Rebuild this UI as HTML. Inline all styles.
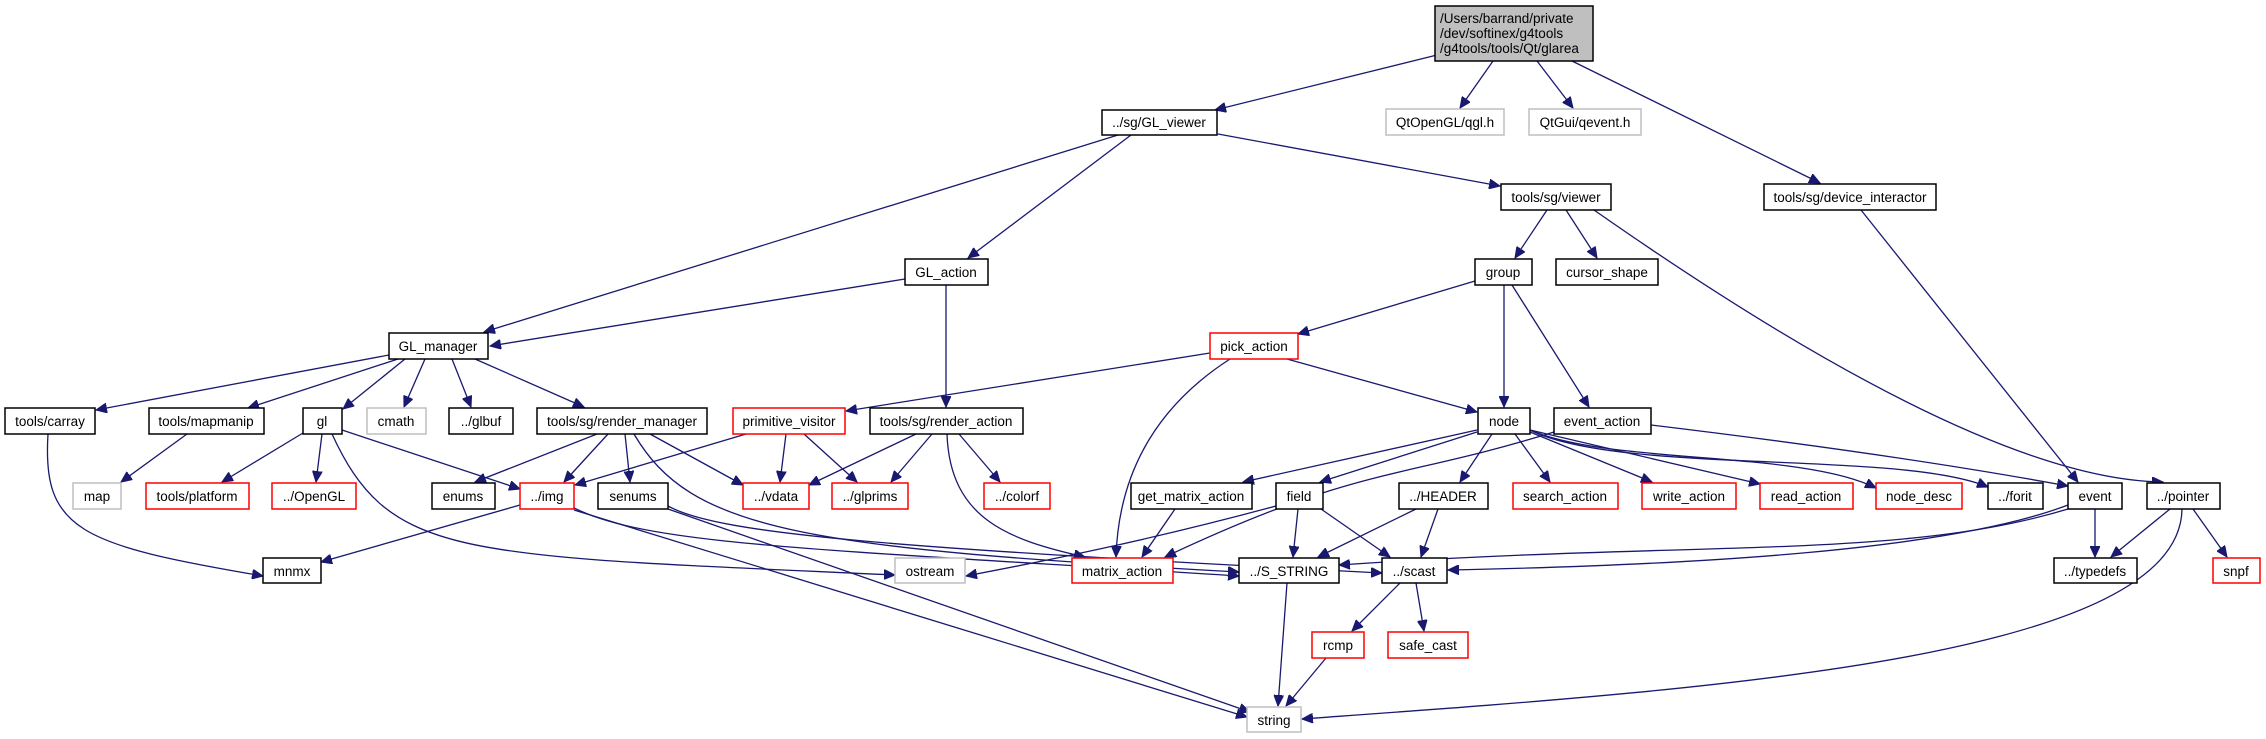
<!DOCTYPE html>
<html><head><meta charset="utf-8"><style>
html,body{margin:0;padding:0;background:#fff;}
svg{display:block;}
text{font-family:"Liberation Sans",sans-serif;font-size:13.5px;fill:#000;}
.e{fill:none;stroke:#191970;stroke-width:1.3;marker-end:url(#a);}
.b{fill:#fff;stroke:#000;stroke-width:1.5;}
.r{fill:#fff;stroke:#ff0000;stroke-width:1.5;}
.g{fill:#fff;stroke:#bfbfbf;stroke-width:1.5;}
</style></head><body>
<svg width="2266" height="739" viewBox="0 0 2266 739" xmlns="http://www.w3.org/2000/svg">
<defs><marker id="a" markerUnits="userSpaceOnUse" markerWidth="12" markerHeight="10" refX="11" refY="5" orient="auto"><path d="M0,0 L11,5 L0,10 z" fill="#191970" stroke="#191970"/></marker></defs>
<g>
<path class="e" d="M1437,55 L1215,110"/>
<path class="e" d="M1493,61 L1460,108"/>
<path class="e" d="M1537,61 L1573,108"/>
<path class="e" d="M1572,61 L1820,183"/>
<path class="e" d="M1118,135 L484,332"/>
<path class="e" d="M1131,135 L968,258"/>
<path class="e" d="M1218,134 L1500,186"/>
<path class="e" d="M1547,210 L1515,258"/>
<path class="e" d="M1566,210 L1597,258"/>
<path class="e" d="M1594,210 Q1980,480 2163,482"/>
<path class="e" d="M1861,210 L2078,482"/>
<path class="e" d="M905,279 L490,346"/>
<path class="e" d="M946,285 L946,407"/>
<path class="e" d="M1475,281 L1298,334"/>
<path class="e" d="M1504,285 L1504,407"/>
<path class="e" d="M1512,285 L1589,407"/>
<path class="e" d="M1210,353 L846,411"/>
<path class="e" d="M1287,359 L1477,412"/>
<path class="e" d="M1230,359 Q1120,430 1116,557"/>
<path class="e" d="M389,355 L96,410"/>
<path class="e" d="M398,359 L248,408"/>
<path class="e" d="M405,359 L343,409"/>
<path class="e" d="M425,359 L404,407"/>
<path class="e" d="M452,359 L471,407"/>
<path class="e" d="M475,359 L584,407"/>
<path class="e" d="M48,434 C42,530 80,545 263,576"/>
<path class="e" d="M187,434 L121,482"/>
<path class="e" d="M303,433 L222,482"/>
<path class="e" d="M322,434 L316,482"/>
<path class="e" d="M342,430 L520,489"/>
<path class="e" d="M332,434 C390,560 460,555 895,575"/>
<path class="e" d="M597,434 L475,482"/>
<path class="e" d="M608,434 L564,482"/>
<path class="e" d="M625,434 L630,482"/>
<path class="e" d="M650,434 L743,485"/>
<path class="e" d="M634,434 C690,530 800,548 1239,572"/>
<path class="e" d="M746,434 L575,485"/>
<path class="e" d="M786,434 L780,482"/>
<path class="e" d="M804,434 L857,482"/>
<path class="e" d="M916,434 L809,485"/>
<path class="e" d="M932,434 L891,482"/>
<path class="e" d="M959,434 L1000,482"/>
<path class="e" d="M947,434 C950,520 1010,540 1085,557"/>
<path class="e" d="M520,505 L321,562"/>
<path class="e" d="M574,508 C650,545 800,548 1239,576"/>
<path class="e" d="M574,510 L1247,717"/>
<path class="e" d="M668,509 L1250,712"/>
<path class="e" d="M668,506 C720,535 900,548 1382,573"/>
<path class="e" d="M1477,430 L1243,482"/>
<path class="e" d="M1477,432 L1320,482"/>
<path class="e" d="M1492,434 L1460,482"/>
<path class="e" d="M1515,434 L1550,482"/>
<path class="e" d="M1530,432 L1652,482"/>
<path class="e" d="M1530,430 L1760,484"/>
<path class="e" d="M1530,430 C1610,465 1800,450 1876,488"/>
<path class="e" d="M1530,430 C1620,475 1900,450 1988,487"/>
<path class="e" d="M1554,432 C1400,480 1360,465 1165,557"/>
<path class="e" d="M1651,425 Q1900,455 2068,486"/>
<path class="e" d="M1175,509 L1142,557"/>
<path class="e" d="M1276,506 C1150,540 1050,560 966,576"/>
<path class="e" d="M1298,509 L1293,557"/>
<path class="e" d="M1321,509 L1390,557"/>
<path class="e" d="M1416,509 L1318,557"/>
<path class="e" d="M1438,509 L1421,557"/>
<path class="e" d="M2068,509 C1900,560 1700,540 1339,565"/>
<path class="e" d="M2068,505 C1950,550 1700,565 1448,570"/>
<path class="e" d="M2095,509 L2095,557"/>
<path class="e" d="M2170,509 L2111,557"/>
<path class="e" d="M2193,509 L2227,557"/>
<path class="e" d="M2182,509 C2180,660 1700,690 1302,719"/>
<path class="e" d="M1287,583 L1278,706"/>
<path class="e" d="M1400,583 L1352,631"/>
<path class="e" d="M1416,583 L1424,631"/>
<path class="e" d="M1326,658 L1286,706"/>
</g>
<g text-anchor="middle">
<rect x="1435" y="6" width="158" height="55" fill="#bfbfbf" stroke="#000" stroke-width="1.5"/>
<text x="1440" y="23" text-anchor="start">/Users/barrand/private</text>
<text x="1440" y="38" text-anchor="start">/dev/softinex/g4tools</text>
<text x="1440" y="53" text-anchor="start">/g4tools/tools/Qt/glarea</text>

<rect class="b" x="1102" y="110" width="115" height="25"/><text x="1159" y="127">../sg/GL_viewer</text>
<rect class="g" x="1386" y="109" width="118" height="26"/><text x="1445" y="127">QtOpenGL/qgl.h</text>
<rect class="g" x="1529" y="109" width="112" height="26"/><text x="1585" y="127">QtGui/qevent.h</text>
<rect class="b" x="1501" y="184" width="110" height="26"/><text x="1556" y="202">tools/sg/viewer</text>
<rect class="b" x="1764" y="184" width="172" height="26"/><text x="1850" y="202">tools/sg/device_interactor</text>
<rect class="b" x="905" y="259" width="83" height="26"/><text x="946" y="277">GL_action</text>
<rect class="b" x="1475" y="259" width="57" height="26"/><text x="1503" y="277">group</text>
<rect class="b" x="1556" y="259" width="102" height="26"/><text x="1607" y="277">cursor_shape</text>
<rect class="b" x="389" y="333" width="99" height="26"/><text x="438" y="351">GL_manager</text>
<rect class="r" x="1210" y="333" width="88" height="26"/><text x="1254" y="351">pick_action</text>

<rect class="b" x="5" y="408" width="90" height="26"/><text x="50" y="426">tools/carray</text>
<rect class="b" x="149" y="408" width="115" height="26"/><text x="206" y="426">tools/mapmanip</text>
<rect class="b" x="303" y="408" width="39" height="26"/><text x="322" y="426">gl</text>
<rect class="g" x="367" y="408" width="59" height="26"/><text x="396" y="426">cmath</text>
<rect class="b" x="449" y="408" width="64" height="26"/><text x="481" y="426">../glbuf</text>
<rect class="b" x="537" y="408" width="170" height="26"/><text x="622" y="426">tools/sg/render_manager</text>
<rect class="r" x="733" y="408" width="112" height="26"/><text x="789" y="426">primitive_visitor</text>
<rect class="b" x="870" y="408" width="153" height="26"/><text x="946" y="426">tools/sg/render_action</text>
<rect class="b" x="1478" y="408" width="52" height="26"/><text x="1504" y="426">node</text>
<rect class="b" x="1554" y="408" width="97" height="26"/><text x="1602" y="426">event_action</text>

<rect class="g" x="73" y="483" width="48" height="26"/><text x="97" y="501">map</text>
<rect class="r" x="146" y="483" width="103" height="26"/><text x="197" y="501">tools/platform</text>
<rect class="r" x="272" y="483" width="84" height="26"/><text x="314" y="501">../OpenGL</text>
<rect class="b" x="432" y="483" width="63" height="26"/><text x="463" y="501">enums</text>
<rect class="r" x="520" y="483" width="54" height="26"/><text x="547" y="501">../img</text>
<rect class="b" x="598" y="483" width="70" height="26"/><text x="633" y="501">senums</text>
<rect class="r" x="743" y="483" width="66" height="26"/><text x="776" y="501">../vdata</text>
<rect class="r" x="832" y="483" width="76" height="26"/><text x="870" y="501">../glprims</text>
<rect class="r" x="984" y="483" width="66" height="26"/><text x="1017" y="501">../colorf</text>
<rect class="b" x="1131" y="483" width="121" height="26"/><text x="1191" y="501">get_matrix_action</text>
<rect class="b" x="1276" y="483" width="47" height="26"/><text x="1299" y="501">field</text>
<rect class="b" x="1399" y="483" width="89" height="26"/><text x="1443" y="501">../HEADER</text>
<rect class="r" x="1513" y="483" width="105" height="26"/><text x="1565" y="501">search_action</text>
<rect class="r" x="1642" y="483" width="94" height="26"/><text x="1689" y="501">write_action</text>
<rect class="r" x="1760" y="483" width="93" height="26"/><text x="1806" y="501">read_action</text>
<rect class="r" x="1876" y="483" width="86" height="26"/><text x="1919" y="501">node_desc</text>
<rect class="b" x="1988" y="483" width="55" height="26"/><text x="2015" y="501">../forit</text>
<rect class="b" x="2068" y="483" width="54" height="26"/><text x="2095" y="501">event</text>
<rect class="b" x="2147" y="483" width="73" height="26"/><text x="2183" y="501">../pointer</text>

<rect class="b" x="263" y="558" width="58" height="25"/><text x="292" y="576">mnmx</text>
<rect class="g" x="895" y="558" width="70" height="25"/><text x="930" y="576">ostream</text>
<rect class="r" x="1072" y="558" width="101" height="25"/><text x="1122" y="576">matrix_action</text>
<rect class="b" x="1239" y="558" width="100" height="25"/><text x="1289" y="576">../S_STRING</text>
<rect class="b" x="1382" y="558" width="65" height="25"/><text x="1414" y="576">../scast</text>
<rect class="b" x="2054" y="558" width="83" height="25"/><text x="2095" y="576">../typedefs</text>
<rect class="r" x="2213" y="558" width="47" height="25"/><text x="2236" y="576">snpf</text>

<rect class="r" x="1312" y="632" width="52" height="26"/><text x="1338" y="650">rcmp</text>
<rect class="r" x="1388" y="632" width="80" height="26"/><text x="1428" y="650">safe_cast</text>
<rect class="g" x="1247" y="707" width="54" height="25"/><text x="1274" y="725">string</text>
</g>
</svg>
</body></html>
